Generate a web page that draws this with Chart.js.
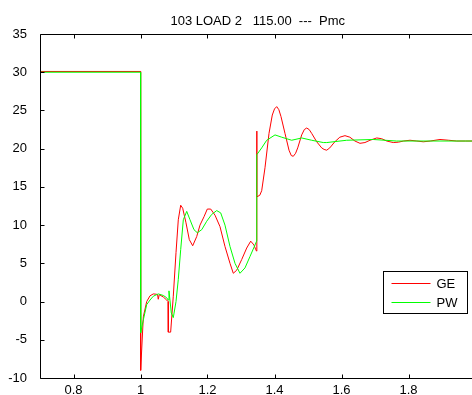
<!DOCTYPE html>
<html>
<head>
<meta charset="utf-8">
<script src="https://cdn.jsdelivr.net/npm/chart.js@4"></script>
<style>
  html, body { margin: 0; padding: 0; background: #fff; overflow: hidden; }
  #wrap { width: 480px; height: 395px; }
</style>
</head>
<body>
<div id="wrap"><canvas id="c" width="480" height="395"></canvas></div>
<script>
// Chart text
const titleText = '103 LOAD 2   115.00  ---  Pmc';
const seriesNames = ['GE', 'PW'];
const seriesColors = ['#ff0000', '#00ff00'];

// Axis ticks
const xTicks = [0.8, 1, 1.2, 1.4, 1.6, 1.8];
const yTicks = [-10, -5, 0, 5, 10, 15, 20, 25, 30, 35];

// GE response (time in s, Pmc)
const geX = [0.7, 1.0, 1.0005, 1.0084, 1.0185, 1.0284, 1.0382, 1.0480, 1.0510, 1.0530, 1.0560, 1.0680, 1.0782, 1.0825,
  1.0830, 1.0900, 1.0979, 1.1060, 1.1128, 1.1200, 1.1260, 1.1358, 1.1457, 1.1558, 1.1678, 1.1776, 1.1896, 1.1994,
  1.2096, 1.2224, 1.2373, 1.2522, 1.2672, 1.2770, 1.2872, 1.3021, 1.3170, 1.3290, 1.3388, 1.3439, 1.3465,
  1.3470, 1.3475, 1.3560, 1.3618, 1.3716, 1.3836, 1.3934, 1.4000, 1.4066, 1.4130, 1.4194, 1.4313, 1.4433,
  1.4500, 1.4561, 1.4630, 1.4693, 1.4812, 1.4890, 1.4961, 1.5035, 1.5110, 1.5260, 1.5409, 1.5480, 1.5558,
  1.5650, 1.5800, 1.5950, 1.6104, 1.6250, 1.6400, 1.6552, 1.6700, 1.6850, 1.7051, 1.7200, 1.7350, 1.7546,
  1.7700, 1.7850, 1.8045, 1.8250, 1.8442, 1.8650, 1.8940, 1.9200, 1.9439, 1.9700, 2.0];
const geY = [30.1, 30.1, -9.0, -2.0, 0.0, 0.75, 1.0, 0.95, 0.9, 0.3, 0.9, 0.6, 0.2, 0.0,
  -4.0, -4.0, 0.7, 6.4, 10.7, 12.6, 12.2, 10.3, 8.1, 7.3, 8.5, 10.0, 11.1, 12.1,
  12.1, 11.3, 9.8, 7.2, 5.0, 3.7, 4.1, 5.5, 7.0, 7.9, 7.4, 6.8, 6.6,
  22.3, 13.7, 13.9, 14.5, 17.5, 22.0, 24.4, 25.2, 25.5, 25.1, 24.2, 22.0, 19.8,
  19.1, 19.0, 19.4, 20.1, 21.8, 22.5, 22.7, 22.5, 22.0, 20.9, 20.1, 19.9, 19.8,
  20.1, 20.9, 21.5, 21.7, 21.5, 21.0, 20.7, 20.8, 21.1, 21.4, 21.3, 21.0, 20.8,
  20.85, 21.0, 21.1, 21.0, 20.9, 21.0, 21.2, 21.1, 21.0, 21.0, 21.0];

// PW response (time in s, Pmc)
const pwX = [0.7, 1.0, 1.0005, 1.0084, 1.0185, 1.0284, 1.0382, 1.0531, 1.0680, 1.0782, 1.0825, 1.0850, 1.0920,
  1.0979, 1.1060, 1.1128, 1.1200, 1.1278, 1.1380, 1.1478, 1.1597, 1.1696, 1.1827, 1.1976, 1.2125, 1.2275,
  1.2394, 1.2522, 1.2672, 1.2821, 1.2970, 1.3119, 1.3269, 1.3418, 1.3465, 1.3470, 1.3618, 1.3767, 1.4015,
  1.4215, 1.4513, 1.4812, 1.5110, 1.5457, 1.5558, 1.6155, 1.6949, 1.7646, 2.0];
const pwY = [30.0, 30.0, -4.1, -2.4, -0.4, 0.2, 0.7, 1.0, 0.8, 0.5, 0.2, 1.4, -1.5,
  -2.1, 0.0, 2.9, 6.8, 10.7, 11.8, 10.7, 9.4, 9.0, 9.4, 10.5, 11.4, 11.9,
  11.6, 10.0, 7.2, 5.0, 3.7, 4.4, 5.9, 7.4, 7.9, 19.2, 20.1, 21.1, 21.8,
  21.5, 21.1, 21.4, 21.1, 20.8, 20.8, 21.1, 21.2, 21.0, 21.0];

const toPoints = (xs, ys) => xs.map((x, i) => ({ x: x, y: ys[i] }));
const FONT = '13px "Liberation Sans", Arial, sans-serif';

// Title centred over the axes, box outline, inward tick marks and the inset legend
const framePlugin = {
  id: 'frame',
  afterDatasetsDraw(chart) {
    const ctx = chart.ctx;
    const a = chart.chartArea;
    const sx = chart.scales.x, sy = chart.scales.y;
    const L = Math.round(a.left) + 0.5, R = Math.round(a.right) + 0.5;
    const T = Math.round(a.top) + 0.5, B = Math.round(a.bottom) + 0.5;
    const tick = 4;
    ctx.save();

    ctx.fillStyle = '#000';
    ctx.font = FONT;
    ctx.textAlign = 'center';
    ctx.textBaseline = 'alphabetic';
    ctx.fillText(titleText, (a.left + a.right) / 2, a.top - 9);

    ctx.strokeStyle = '#000';
    ctx.lineWidth = 1;
    ctx.beginPath();
    ctx.rect(L, T, R - L, B - T);
    ctx.stroke();
    ctx.beginPath();
    xTicks.forEach(v => {
      const px = Math.round(sx.getPixelForValue(v)) + 0.5;
      ctx.moveTo(px, B); ctx.lineTo(px, B - tick);
      ctx.moveTo(px, T); ctx.lineTo(px, T + tick);
    });
    yTicks.forEach(v => {
      const py = Math.round(sy.getPixelForValue(v)) + 0.5;
      ctx.moveTo(L, py); ctx.lineTo(L + tick, py);
      ctx.moveTo(R, py); ctx.lineTo(R - tick, py);
    });
    ctx.stroke();

    // legend box
    const w = 84, h = 42;
    const bx = Math.round(a.right - 9 - w) + 0.5;
    const by = Math.round(a.bottom - 65 - h) + 0.5;
    ctx.fillStyle = '#fff';
    ctx.fillRect(bx, by, w, h);
    ctx.strokeStyle = '#000';
    ctx.strokeRect(bx, by, w, h);
    ctx.font = FONT;
    ctx.textBaseline = 'middle';
    ctx.textAlign = 'left';
    chart.data.datasets.forEach((ds, i) => {
      const ly = Math.round(by + 11 + i * 19) + 0.5;
      ctx.strokeStyle = ds.borderColor;
      ctx.beginPath();
      ctx.moveTo(bx + 8, ly); ctx.lineTo(bx + 47, ly);
      ctx.stroke();
      ctx.fillStyle = '#000';
      ctx.fillText(ds.label, bx + 53, ly + 1);
    });
    ctx.restore();
  }
};

Chart.defaults.font.family = '"Liberation Sans", Arial, sans-serif';
Chart.defaults.font.size = 13;
Chart.defaults.color = '#000';

new Chart(document.getElementById('c'), {
  type: 'line',
  data: {
    datasets: [
      { label: seriesNames[0], data: toPoints(geX, geY), borderColor: seriesColors[0], borderWidth: 1, pointRadius: 0, tension: 0, order: 1 },
      { label: seriesNames[1], data: toPoints(pwX, pwY), borderColor: seriesColors[1], borderWidth: 1, pointRadius: 0, tension: 0, order: 0 }
    ]
  },
  options: {
    responsive: false,
    animation: false,
    events: [],
    layout: { padding: { left: 0, right: 4.5, top: 34, bottom: 0 } },
    plugins: {
      legend: { display: false },
      tooltip: { enabled: false },
      title: { display: false }
    },
    scales: {
      x: {
        type: 'linear',
        min: 0.7, max: 2.0,
        afterBuildTicks: s => { s.ticks = xTicks.map(v => ({ value: v })); },
        afterFit: s => { s.height = 17; },
        grid: { display: false },
        border: { display: false },
        ticks: { padding: -3, maxRotation: 0, callback: v => String(v) }
      },
      y: {
        type: 'linear',
        min: -10, max: 35,
        afterBuildTicks: s => { s.ticks = yTicks.map(v => ({ value: v })); },
        afterFit: s => { s.width = 40; },
        grid: { display: false },
        border: { display: false },
        ticks: { padding: 5, callback: v => String(v) }
      }
    }
  },
  plugins: [framePlugin]
});
</script>
</body>
</html>
